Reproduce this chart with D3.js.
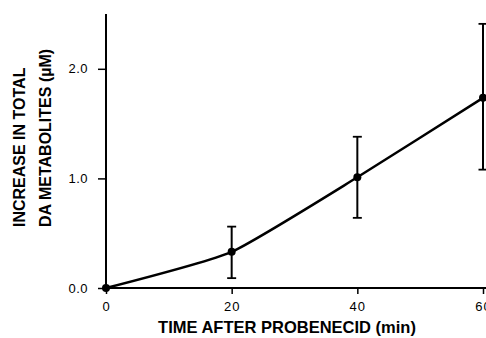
<!DOCTYPE html>
<html><head><meta charset="utf-8">
<script src="https://cdn.jsdelivr.net/npm/d3@7"></script>
<style>body{margin:0;background:#fff}svg{display:block}</style>
</head><body>
<svg id="c" width="486" height="338"></svg>
<script>
const times = [0, 20, 40, 60];
const means = [0, 0.33, 1.01, 1.735];
const errLow = [0, 0.09, 0.64, 1.08];
const errHigh = [0, 0.56, 1.38, 2.41];
const xTicks = [0, 20, 40, 60];
const yTicks = [0, 1, 2];

const svg = d3.select("#c");
const x = d3.scaleLinear().domain([0, 60]).range([106, 483]);
const y = d3.scaleLinear().domain([0, 2.5]).range([288, 14]);
const font = "'Liberation Sans', Arial, Helvetica, sans-serif";

// axes
const xa = svg.append("g").attr("transform", "translate(0,288)")
  .call(d3.axisBottom(x).tickValues(xTicks).tickSize(6).tickSizeOuter(0).tickFormat(d3.format("d")));
xa.select(".domain").attr("d", "M106,0H490").attr("stroke", "#000").attr("stroke-width", 2);
xa.selectAll(".tick line").attr("stroke-width", 1.5);
xa.selectAll(".tick text").attr("font-family", font).attr("font-size", 13).attr("dy", "1.05em").attr("letter-spacing", 1);

const ya = svg.append("g").attr("transform", "translate(106,0)")
  .call(d3.axisLeft(y).tickValues(yTicks).tickSize(8).tickSizeOuter(0).tickFormat(d3.format(".1f")));
ya.select(".domain").attr("d", "M0,288V14").attr("stroke", "#000").attr("stroke-width", 2);
ya.selectAll(".tick line").attr("stroke-width", 1.5);
ya.selectAll(".tick text").attr("font-family", font).attr("font-size", 13).attr("x", -18).attr("letter-spacing", 0.5);

// line
const pts = times.map((t, i) => [t, means[i]]);
svg.append("path").datum(pts)
  .attr("d", d3.line().x(d => x(d[0])).y(d => y(d[1])).curve(d3.curveCardinal.tension(0.5)))
  .attr("fill", "none").attr("stroke", "#000").attr("stroke-width", 2.5);

// error bars
const eb = svg.append("g").attr("stroke", "#000");
times.forEach((t, i) => {
  if (errHigh[i] === errLow[i]) return;
  const cx = x(t);
  eb.append("line").attr("x1", cx).attr("x2", cx).attr("y1", y(errLow[i])).attr("y2", y(errHigh[i])).attr("stroke-width", 2);
  [errLow[i], errHigh[i]].forEach(v => {
    eb.append("line").attr("x1", cx - 4.5).attr("x2", cx + 4.5).attr("y1", y(v)).attr("y2", y(v)).attr("stroke-width", 1.8);
  });
});

// markers
svg.append("g").selectAll("circle").data(pts).join("circle")
  .attr("cx", d => x(d[0])).attr("cy", d => y(d[1])).attr("r", 4).attr("fill", "#000");

// titles
svg.append("text").attr("x", 287).attr("y", 333).attr("text-anchor", "middle")
  .attr("font-family", font).attr("font-weight", "bold").attr("font-size", 16.5)
  .text("TIME AFTER PROBENECID (min)");
const yt = svg.append("text").attr("transform", "translate(0,227) rotate(-90)")
  .attr("text-anchor", "start").attr("font-family", font).attr("font-weight", "bold").attr("font-size", 16);
yt.append("tspan").attr("x", 0).attr("y", 25).text("INCREASE IN TOTAL");
yt.append("tspan").attr("x", 0).attr("y", 51).text("DA METABOLITES (\u00B5M)");
</script>
</body></html>
